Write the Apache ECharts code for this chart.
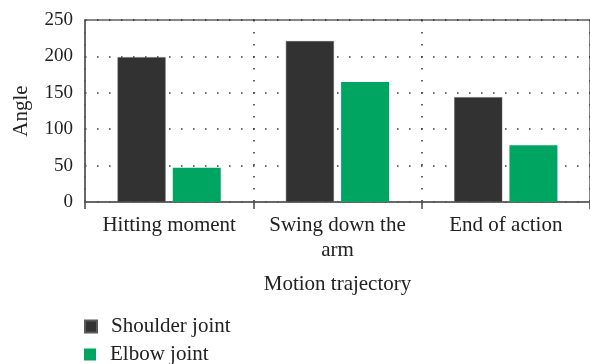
<!DOCTYPE html>
<html>
<head>
<meta charset="utf-8">
<script src="https://cdn.jsdelivr.net/npm/echarts@6/dist/echarts.min.js"></script>
<style>
  html, body { margin: 0; padding: 0; background: #fff; }
  #chart { width: 590px; height: 364px; }
</style>
</head>
<body>
<div id="chart"></div>
<script>
// Joint angles for each phase of the motion
const categories = ['Hitting moment', 'Swing down the\narm', 'End of action'];
const seriesNames = ['Shoulder joint', 'Elbow joint'];
const shoulderJoint = [199, 221, 144];
const elbowJoint = [47, 165, 78];
const yTicks = [0, 50, 100, 150, 200, 250];

const FONT = '"Liberation Serif", "Times New Roman", serif';
const AXIS_GRAY = '#5f5f5f';
const DOT = { color: '#333', width: 1.5, type: [1.5, 10.5] };

// One stacked legend row per series
const legendRow = (name, top) => ({
  orient: 'vertical',
  left: 84, top: top,
  padding: 0,
  itemWidth: 12, itemHeight: 12,
  icon: 'rect',
  textStyle: { fontFamily: FONT, fontSize: 21, lineHeight: 21, color: '#222', padding: [0, 0, 0, 9] },
  data: [name]
});

const chart = echarts.init(document.getElementById('chart'), null, { renderer: 'canvas' });

chart.setOption({
  animation: false,
  backgroundColor: '#fff',
  grid: {
    left: 85, top: 20, width: 515, bottom: 162,
    show: true, borderColor: AXIS_GRAY, borderWidth: 1.5, backgroundColor: 'transparent'
  },
  legend: [legendRow(seriesNames[0], 316), legendRow(seriesNames[1], 344)],
  xAxis: {
    type: 'category',
    data: categories,
    name: 'Motion trajectory',
    nameLocation: 'middle',
    nameGap: 70,
    nameTextStyle: { fontFamily: FONT, fontSize: 21, lineHeight: 25, color: '#222' },
    axisLine: { show: true, lineStyle: { color: AXIS_GRAY, width: 1.5 } },
    axisTick: { show: true, length: 7, lineStyle: { color: '#444', width: 1.5 } },
    axisLabel: { fontFamily: FONT, fontSize: 21, lineHeight: 25, color: '#222', margin: 11, interval: 0 },
    splitLine: { show: true, lineStyle: DOT }
  },
  yAxis: {
    type: 'value',
    min: yTicks[0],
    max: yTicks[yTicks.length - 1],
    interval: yTicks[1] - yTicks[0],
    name: 'Angle',
    nameLocation: 'middle',
    nameGap: 48,
    nameTextStyle: { fontFamily: FONT, fontSize: 21, lineHeight: 25, color: '#222' },
    axisLine: { show: true, lineStyle: { color: AXIS_GRAY, width: 1.5 } },
    axisTick: { show: false },
    axisLabel: { fontFamily: FONT, fontSize: 19, color: '#222', margin: 12 },
    splitLine: { show: true, lineStyle: DOT }
  },
  series: [
    {
      name: seriesNames[0],
      type: 'bar',
      data: shoulderJoint,
      barWidth: 48,
      barGap: '15%',
      itemStyle: { color: '#323232', borderColor: '#5a5a5a', borderWidth: 0.5 }
    },
    {
      name: seriesNames[1],
      type: 'bar',
      data: elbowJoint,
      barWidth: 48,
      itemStyle: { color: '#00a562' }
    }
  ]
});
</script>
</body>
</html>
